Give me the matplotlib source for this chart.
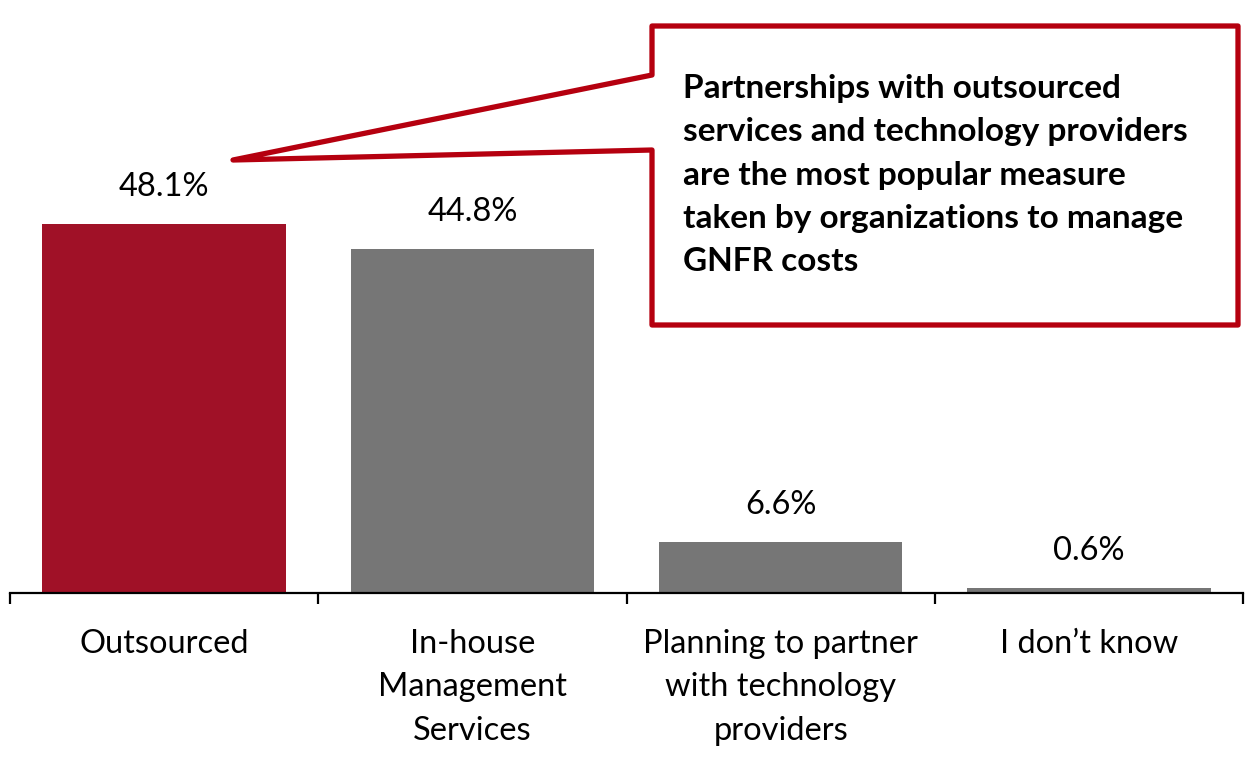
import matplotlib
matplotlib.use("Agg")
import matplotlib.pyplot as plt
from matplotlib.patches import Polygon

categories = ["Outsourced", "In-house\nManagement\nServices",
              "Planning to partner\nwith technology\nproviders", "I don\u2019t know"]
values = [48.1, 44.8, 6.6, 0.6]
labels = ["48.1%", "44.8%", "6.6%", "0.6%"]
colors = ["#A01127", "#767676", "#767676", "#767676"]
callout_text = ("Partnerships with outsourced\nservices and technology providers\n"
                "are the most popular measure\ntaken by organizations to manage\nGNFR costs")

plt.rcParams['font.family'] = ['Lato', 'DejaVu Sans']

W, H = 1258, 760
fig = plt.figure(figsize=(W / 100, H / 100), dpi=100)
ax = fig.add_axes([10 / W, 167 / H, 1233 / W, 593 / H])
ax.set_xlim(-0.5, 3.5)
ax.set_ylim(0, 593 / 7.68)

x = range(len(values))
ax.bar(x, values, width=0.79, color=colors, zorder=2)
for xi, v, lab in zip(x, values, labels):
    ax.annotate(lab, (xi, v), xytext=(0, 37), textcoords="offset pixels",
                ha="center", va="center", fontsize=23.5, color="black")

for s in ["top", "right", "left"]:
    ax.spines[s].set_visible(False)
ax.spines["bottom"].set_linewidth(1.6)
ax.set_yticks([])
ax.set_xticks(list(x))
ax.set_xticklabels(categories, fontsize=23.5, linespacing=1.55)
ax.tick_params(axis="x", which="major", length=0, pad=26)
ax.set_xticks([-0.5, 0.5, 1.5, 2.5, 3.5], minor=True)
ax.tick_params(axis="x", which="minor", length=8, width=1.6, direction="out")

def fp(px, py):
    return (px / W, 1 - py / H)

pts = [fp(652, 75), fp(652, 26), fp(1238, 26), fp(1238, 325), fp(652, 325),
       fp(652, 150), fp(233, 160)]
poly = Polygon(pts, closed=True, transform=fig.transFigure, facecolor="white",
               edgecolor="#B5000F", linewidth=3.8, joinstyle="round", zorder=5)
fig.patches.append(poly)
fig.text(683 / W, 1 - 175 / H, callout_text, ha="left", va="center",
         fontsize=24, fontweight="bold", linespacing=1.59, zorder=6)

fig.savefig("out.png", dpi=100, facecolor="white")
